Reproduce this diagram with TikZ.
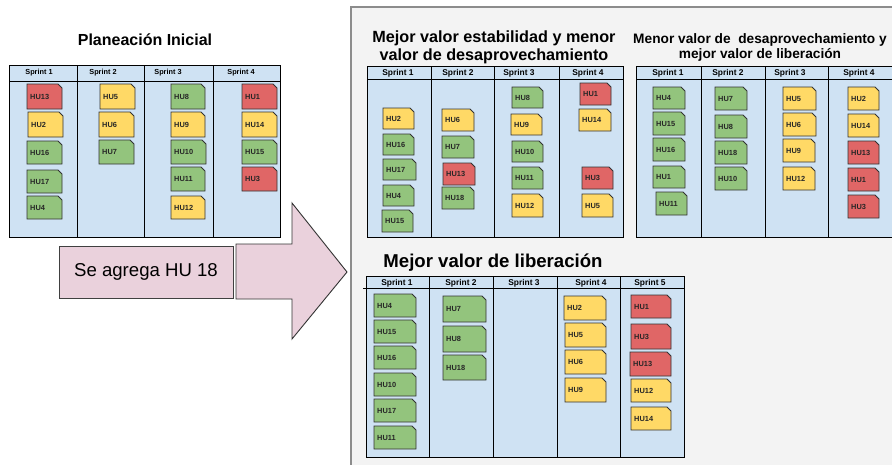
\documentclass[tikz,border=0pt]{standalone}
\usepackage{fontspec}
\setmainfont{Liberation Sans}
\definecolor{cgreen}{HTML}{93C47D}
\definecolor{cyellow}{HTML}{FFD966}
\definecolor{cred}{HTML}{E06666}
\definecolor{cboard}{HTML}{CFE2F3}
\definecolor{cpink}{HTML}{EAD1DC}
\definecolor{cpanel}{HTML}{F3F3F3}
\definecolor{cpanelline}{HTML}{8C8C8C}
\tikzset{
  boardbox/.style={fill=cboard, draw=black, line width=0.9pt},
  boardline/.style={draw=black, line width=0.9pt},
  cardline/.style={draw=black!80, line width=0.8pt, line join=miter},
  cardtext/.style={anchor=west, inner sep=0pt, text=black!85, font=\bfseries\fontsize{7.4}{8}\selectfont},
  sprintsmall/.style={inner sep=0pt, font=\bfseries\fontsize{7.3}{8}\selectfont},
  sprintlbl/.style={inner sep=0pt, font=\bfseries\fontsize{8.4}{9}\selectfont},
  titletext/.style={inner sep=0pt, align=center, font=\bfseries},
}
\newcommand\hu[7]{%
  \filldraw[cardline, fill=#6] (#2,#3) -- ({#4-4},#3) -- (#4,{#3+4}) -- (#4,#5) -- (#2,#5) -- cycle;
  \node[cardtext] (#1) at ({#2+3},{(#3+#5)/2}) {#7};
}
\begin{document}
\begin{tikzpicture}[x=1pt,y=-1pt]
\useasboundingbox (0,0) rectangle (892,464);
\fill[white] (0,0) rectangle (892,464);
% grey panel
\filldraw[fill=cpanel, draw=cpanelline, line width=1.2pt] (351,7) rectangle (900,475);

% ===== Planeacion Inicial =====
\node[titletext, font=\bfseries\fontsize{16}{18}\selectfont] (tA) at (145,40) {Planeación Inicial};
\filldraw[boardbox] (9,65) rectangle (280,237);
\draw[boardline] (9,81) -- (280,81);
\foreach \x in {77,144,213} \draw[boardline] (\x,65) -- (\x,237);
\node[sprintsmall] (aS1) at (39,73) {Sprint 1};
\node[sprintsmall] (aS2) at (103,73) {Sprint 2};
\node[sprintsmall] (aS3) at (168,73) {Sprint 3};
\node[sprintsmall] (aS4) at (241,73) {Sprint 4};
\hu{a13}{27}{84}{62}{109}{cred}{HU13}
\hu{a2}{28}{112}{63}{137}{cyellow}{HU2}
\hu{a16}{27}{141}{62}{164}{cgreen}{HU16}
\hu{a17}{27}{170}{62}{193}{cgreen}{HU17}
\hu{a4}{27}{196}{62}{219}{cgreen}{HU4}
\hu{a5}{100}{84}{135}{109}{cyellow}{HU5}
\hu{a6}{99}{112}{134}{137}{cyellow}{HU6}
\hu{a7}{99}{140}{134}{164}{cgreen}{HU7}
\hu{a8}{171}{84}{205}{109}{cgreen}{HU8}
\hu{a9}{171}{112}{205}{137}{cyellow}{HU9}
\hu{a10}{171}{140}{206}{164}{cgreen}{HU10}
\hu{a11}{171}{167}{205}{191}{cgreen}{HU11}
\hu{a12}{171}{196}{205}{219}{cyellow}{HU12}
\hu{a1}{242}{84}{277}{109}{cred}{HU1}
\hu{a14}{242}{112}{277}{137}{cyellow}{HU14}
\hu{a15}{242}{140}{277}{164}{cgreen}{HU15}
\hu{a3}{242}{167}{277}{191}{cred}{HU3}

% ===== label + arrow =====
\node[draw=black!75, line width=0.9pt, fill=cpink, minimum width=174pt, minimum height=52pt, inner sep=0pt,
      font=\fontsize{18.6}{20}\selectfont] (agrega) at (146,272) {Se agrega HU 18};
\filldraw[fill=cpink, draw=black!80, line width=0.9pt, line join=miter]
  (236,244) -- (292,244) -- (292,203) -- (347,272) -- (292,339) -- (292,299) -- (236,299) -- cycle;

% ===== Mejor valor estabilidad =====
\node[titletext, font=\bfseries\fontsize{16.2}{18}\selectfont] (tB) at (494,47) {Mejor valor estabilidad y menor\\valor de desaprovechamiento};
\filldraw[boardbox] (367,66) rectangle (623,237);
\draw[boardline] (367,79) -- (623,79);
\foreach \x in {431,494,559} \draw[boardline] (\x,66) -- (\x,237);
\node[sprintlbl] (bS1) at (398,73) {Sprint 1};
\node[sprintlbl] (bS2) at (458,73) {Sprint 2};
\node[sprintlbl] (bS3) at (519,73) {Sprint 3};
\node[sprintlbl] (bS4) at (588,73) {Sprint 4};
\hu{b2}{383}{108}{414}{129}{cyellow}{HU2}
\hu{b16}{383}{134}{414}{155}{cgreen}{HU16}
\hu{b17}{383}{159}{416}{180}{cgreen}{HU17}
\hu{b4}{383}{185}{414}{206}{cgreen}{HU4}
\hu{b15}{382}{210}{413}{232}{cgreen}{HU15}
\hu{b6}{442}{109}{474}{131}{cyellow}{HU6}
\hu{b7}{442}{136}{474}{158}{cgreen}{HU7}
\hu{b13}{443}{163}{475}{185}{cred}{HU13}
\hu{b18}{442}{187}{474}{209}{cgreen}{HU18}
\hu{b8}{512}{87}{543}{108}{cgreen}{HU8}
\hu{b9}{511}{114}{542}{135}{cyellow}{HU9}
\hu{b10}{512}{141}{543}{162}{cgreen}{HU10}
\hu{b11}{512}{167}{543}{189}{cgreen}{HU11}
\hu{b12}{512}{194}{543}{217}{cyellow}{HU12}
\hu{b1}{580}{83}{611}{105}{cred}{HU1}
\hu{b14}{579}{109}{611}{131}{cyellow}{HU14}
\hu{b3}{582}{167}{613}{189}{cred}{HU3}
\hu{b5}{582}{194}{613}{217}{cyellow}{HU5}

% ===== Menor valor de desaprovechamiento =====
\node[titletext, font=\bfseries\fontsize{13.7}{15}\selectfont] (tC) at (760,47) {Menor valor de \ desaprovechamiento y\\mejor valor de liberación};
\filldraw[boardbox] (636,66) rectangle (896,237);
\draw[boardline] (636,79) -- (896,79);
\foreach \x in {701,765,828} \draw[boardline] (\x,66) -- (\x,237);
\node[sprintlbl] (cS1) at (668,73) {Sprint 1};
\node[sprintlbl] (cS2) at (728,73) {Sprint 2};
\node[sprintlbl] (cS3) at (790,73) {Sprint 3};
\node[sprintlbl] (cS4) at (859,73) {Sprint 4};
\hu{c4}{653}{87}{685}{109}{cgreen}{HU4}
\hu{c15}{653}{112}{685}{135}{cgreen}{HU15}
\hu{c16}{653}{138}{685}{161}{cgreen}{HU16}
\hu{c1}{653}{166}{685}{188}{cgreen}{HU1}
\hu{c11}{656}{192}{687}{215}{cgreen}{HU11}
\hu{c7}{715}{87}{747}{110}{cgreen}{HU7}
\hu{c8}{715}{115}{747}{138}{cgreen}{HU8}
\hu{c18}{715}{141}{747}{164}{cgreen}{HU18}
\hu{c10}{715}{167}{747}{190}{cgreen}{HU10}
\hu{c5}{783}{87}{816}{110}{cyellow}{HU5}
\hu{c6}{783}{113}{816}{136}{cyellow}{HU6}
\hu{c9}{783}{139}{815}{162}{cyellow}{HU9}
\hu{c12}{783}{167}{815}{190}{cyellow}{HU12}
\hu{c2}{848}{87}{879}{110}{cyellow}{HU2}
\hu{c14}{848}{114}{879}{137}{cyellow}{HU14}
\hu{c13}{848}{141}{879}{164}{cred}{HU13}
\hu{c1b}{848}{168}{879}{191}{cred}{HU1}
\hu{c3}{848}{195}{879}{218}{cred}{HU3}

% ===== Mejor valor de liberacion =====
\node[titletext, font=\bfseries\fontsize{18.6}{20}\selectfont] (tD) at (493,263) {Mejor valor de liberación};
\filldraw[boardbox] (366,276) rectangle (684,457);
\draw[boardline] (363,288) -- (684,288);
\foreach \x in {429,493,557,620} \draw[boardline] (\x,276) -- (\x,457);
\node[sprintlbl] (dS1) at (397,283) {Sprint 1};
\node[sprintlbl] (dS2) at (461,283) {Sprint 2};
\node[sprintlbl] (dS3) at (524,283) {Sprint 3};
\node[sprintlbl] (dS4) at (591,283) {Sprint 4};
\node[sprintlbl] (dS5) at (650,283) {Sprint 5};
\hu{d4}{374}{294}{416}{317}{cgreen}{HU4}
\hu{d15}{374}{320}{416}{343}{cgreen}{HU15}
\hu{d16}{374}{346}{416}{369}{cgreen}{HU16}
\hu{d10}{374}{373}{416}{396}{cgreen}{HU10}
\hu{d17}{374}{399}{416}{422}{cgreen}{HU17}
\hu{d11}{374}{426}{416}{449}{cgreen}{HU11}
\hu{d7}{443}{296}{486}{322}{cgreen}{HU7}
\hu{d8}{443}{326}{486}{352}{cgreen}{HU8}
\hu{d18}{443}{355}{486}{380}{cgreen}{HU18}
\hu{d2}{564}{296}{606}{320}{cyellow}{HU2}
\hu{d5}{565}{323}{606}{347}{cyellow}{HU5}
\hu{d6}{565}{350}{606}{374}{cyellow}{HU6}
\hu{d9}{565}{378}{606}{402}{cyellow}{HU9}
\hu{d1}{631}{295}{671}{318}{cred}{HU1}
\hu{d3}{631}{324}{671}{349}{cred}{HU3}
\hu{d13}{630}{352}{671}{376}{cred}{HU13}
\hu{d12}{631}{379}{671}{402}{cyellow}{HU12}
\hu{d14}{631}{407}{671}{430}{cyellow}{HU14}
\end{tikzpicture}
\end{document}
